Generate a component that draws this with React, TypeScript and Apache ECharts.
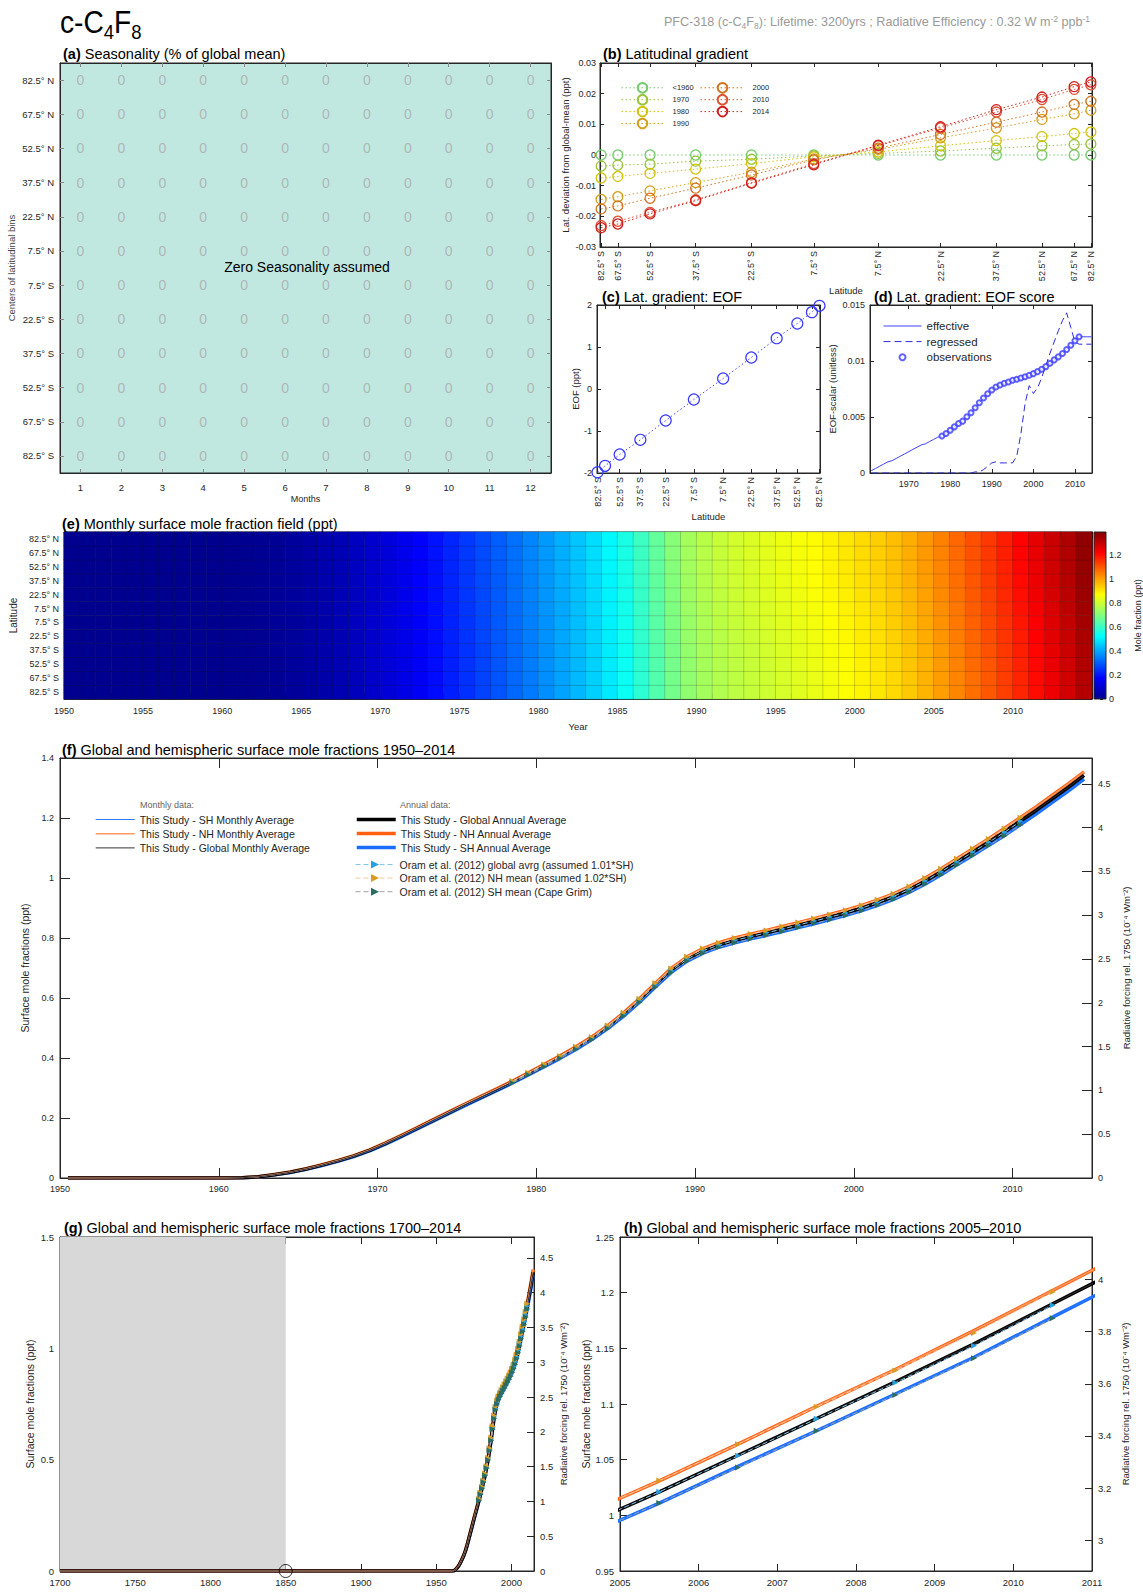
import React, { useEffect, useRef } from "react";
import * as echarts from "echarts";

const FONT = "'Liberation Sans', Arial, Helvetica, sans-serif";
const INK = "#262626";

// ---------------- data ----------------
const latLabels = ["82.5° S", "67.5° S", "52.5° S", "37.5° S", "22.5° S", "7.5° S", "7.5° N", "22.5° N", "37.5° N", "52.5° N", "67.5° N", "82.5° N"];
const latDegrees = [-82.5, -67.5, -52.5, -37.5, -22.5, -7.5, 7.5, 22.5, 37.5, 52.5, 67.5, 82.5];
const monthLabels = ["1", "2", "3", "4", "5", "6", "7", "8", "9", "10", "11", "12"];

// (a) seasonality, rows south -> north, columns Jan..Dec
const seasonality = [
  [0, 0, 0, 0, 0, 0, 0, 0, 0, 0, 0, 0],
  [0, 0, 0, 0, 0, 0, 0, 0, 0, 0, 0, 0],
  [0, 0, 0, 0, 0, 0, 0, 0, 0, 0, 0, 0],
  [0, 0, 0, 0, 0, 0, 0, 0, 0, 0, 0, 0],
  [0, 0, 0, 0, 0, 0, 0, 0, 0, 0, 0, 0],
  [0, 0, 0, 0, 0, 0, 0, 0, 0, 0, 0, 0],
  [0, 0, 0, 0, 0, 0, 0, 0, 0, 0, 0, 0],
  [0, 0, 0, 0, 0, 0, 0, 0, 0, 0, 0, 0],
  [0, 0, 0, 0, 0, 0, 0, 0, 0, 0, 0, 0],
  [0, 0, 0, 0, 0, 0, 0, 0, 0, 0, 0, 0],
  [0, 0, 0, 0, 0, 0, 0, 0, 0, 0, 0, 0],
  [0, 0, 0, 0, 0, 0, 0, 0, 0, 0, 0, 0],
];

// (b) latitudinal gradient (ppt), south -> north
const gradientNames = ["<1960", "1970", "1980", "1990", "2000", "2010", "2014"];
const gradLt1960 = [0, 0, 0, 0, 0, 0, 0, 0, 0, 0, 0, 0];
const grad1970 = [-0.0036, -0.0033, -0.003, -0.002, -0.0014, -0.0003, 0.0005, 0.0013, 0.0022, 0.003, 0.0034, 0.0036];
const grad1980 = [-0.0075, -0.007, -0.006, -0.0046, -0.0028, -0.0006, 0.001, 0.003, 0.0047, 0.006, 0.007, 0.0075];
const grad1990 = [-0.0145, -0.0136, -0.0117, -0.009, -0.0056, -0.0013, 0.0018, 0.0056, 0.0088, 0.0116, 0.0134, 0.0146];
const grad2000 = [-0.0176, -0.0166, -0.0141, -0.0108, -0.0065, -0.0016, 0.0022, 0.0067, 0.0107, 0.014, 0.0165, 0.0175];
const grad2010 = [-0.023, -0.0216, -0.0187, -0.0146, -0.009, -0.0028, 0.003, 0.0088, 0.014, 0.0181, 0.0214, 0.0229];
const grad2014 = [-0.0237, -0.0225, -0.0192, -0.0149, -0.0092, -0.0032, 0.0032, 0.0092, 0.0148, 0.0189, 0.0223, 0.0238];
const gradientColors = ["#74cc6c", "#98c43c", "#d2c40a", "#d4a01e", "#d27424", "#dc5232", "#d21e1e"];

// (c) EOF (ppt)
const eofValues = [-1.98, -1.83, -1.56, -1.21, -0.75, -0.25, 0.25, 0.75, 1.21, 1.56, 1.83, 1.98];

// (d) EOF score
const decadeTicks = [1970, 1980, 1990, 2000, 2010];
const obsYears = [1978, 1979, 1980, 1981, 1982, 1983, 1984, 1985, 1986, 1987, 1988, 1989, 1990, 1991, 1992, 1993, 1994, 1995, 1996, 1997, 1998, 1999, 2000, 2001, 2002, 2003, 2004, 2005, 2006, 2007, 2008, 2009, 2010, 2011];
const obsScore = [0.0033, 0.00353, 0.00382, 0.00412, 0.00442, 0.00463, 0.00502, 0.00538, 0.00583, 0.00627, 0.00669, 0.00708, 0.00741, 0.00768, 0.00786, 0.00801, 0.00813, 0.00828, 0.00837, 0.00849, 0.0086, 0.00872, 0.00887, 0.00905, 0.00926, 0.0095, 0.0098, 0.0101, 0.01037, 0.01067, 0.01102, 0.01141, 0.0118, 0.01216];
const regressedYears = [1961, 1985, 1986, 1987, 1988, 1989, 1990, 1991, 1992, 1993, 1994, 1995, 1996, 1997, 1998, 1999, 2000, 2001, 2002, 2003, 2004, 2005, 2006, 2007, 2008, 2009, 2010, 2011, 2014];
const regressedScore = [0, 0, 0.0001, 0.0001, 0.0003, 0.0006, 0.0009, 0.001, 0.0009, 0.0009, 0.0009, 0.0009, 0.0015, 0.0035, 0.0062, 0.0078, 0.0071, 0.0076, 0.0085, 0.0096, 0.0107, 0.0117, 0.0127, 0.0136, 0.0143, 0.013, 0.0117, 0.0115, 0.0115];

// annual series 1950..2014 (values at mid-year)
const annualYears = Array.from({ length: 65 }, (_, i) => 1950 + i);
const scoreAnnual = [
  0, 0, 0, 0, 0, 0, 0, 0, 0, 0, 0,
  0.0002, 0.0004, 0.0006, 0.0008, 0.001, 0.0011, 0.0013, 0.0015, 0.0017, 0.0019, 0.0021, 0.0023, 0.0025, 0.0026, 0.0028, 0.003, 0.0032,
  0.0033, 0.00353, 0.00382, 0.00412, 0.00442, 0.00463, 0.00502, 0.00538, 0.00583, 0.00627, 0.00669, 0.00708, 0.00741, 0.00768, 0.00786, 0.00801, 0.00813, 0.00828, 0.00837, 0.00849, 0.0086, 0.00872, 0.00887, 0.00905, 0.00926, 0.0095, 0.0098, 0.0101, 0.01037, 0.01067, 0.01102, 0.01141, 0.0118, 0.01216,
  0.01216, 0.01216, 0.01216,
];
const globalAnnual = [
  0, 0, 0, 0, 0, 0, 0, 0, 0, 0, 0,
  0.001, 0.004, 0.011, 0.019, 0.03, 0.043, 0.057, 0.073, 0.092, 0.115,
  0.14, 0.166, 0.192, 0.218, 0.244, 0.269, 0.294, 0.32, 0.347, 0.375,
  0.403, 0.433, 0.466, 0.503, 0.545, 0.592, 0.643, 0.692, 0.73, 0.757,
  0.777, 0.792, 0.805, 0.817, 0.83, 0.843, 0.856, 0.87, 0.884, 0.9,
  0.918, 0.938, 0.962, 0.99, 1.021, 1.054, 1.087, 1.12, 1.154, 1.19,
  1.226, 1.264, 1.302, 1.342,
];
const nhAnnual = [
  0, 0, 0, 0, 0, 0, 0, 0, 0, 0, 0,
  0.0012, 0.0044, 0.0116, 0.0198, 0.031, 0.0441, 0.0583, 0.0745, 0.0937, 0.1169,
  0.1421, 0.1683, 0.1945, 0.2206, 0.2468, 0.272, 0.2972, 0.3233, 0.3505, 0.3788,
  0.4071, 0.4374, 0.4706, 0.508, 0.5504, 0.5978, 0.6493, 0.6987, 0.7371, 0.7644,
  0.7847, 0.7999, 0.813, 0.8251, 0.8383, 0.8514, 0.8645, 0.8786, 0.8927, 0.9089,
  0.9271, 0.9473, 0.9715, 0.9998, 1.031, 1.064, 1.098, 1.131, 1.166, 1.202,
  1.238, 1.276, 1.314, 1.354,
];
const shAnnual = [
  0, 0, 0, 0, 0, 0, 0, 0, 0, 0, 0,
  0.0008, 0.0036, 0.0104, 0.0182, 0.029, 0.0419, 0.0557, 0.0715, 0.0903, 0.1131,
  0.1379, 0.1637, 0.1895, 0.2154, 0.2412, 0.266, 0.2908, 0.3167, 0.3435, 0.3712,
  0.3989, 0.4286, 0.4614, 0.498, 0.5396, 0.5862, 0.6367, 0.6853, 0.7229, 0.7496,
  0.7693, 0.7841, 0.797, 0.8089, 0.8217, 0.8346, 0.8475, 0.8614, 0.8753, 0.8911,
  0.9089, 0.9287, 0.9525, 0.9802, 1.011, 1.044, 1.076, 1.109, 1.142, 1.178,
  1.214, 1.252, 1.29, 1.33,
];
// Oram et al. (2012) Cape Grim SH, 1978..2010
const oramYears = Array.from({ length: 33 }, (_, i) => 1978 + i);
const oramSH = [
  0.317, 0.344, 0.371, 0.399, 0.429, 0.461, 0.498, 0.54, 0.586, 0.637,
  0.685, 0.723, 0.75, 0.769, 0.784, 0.797, 0.809, 0.822, 0.835, 0.848,
  0.861, 0.875, 0.891, 0.909, 0.929, 0.953, 0.98, 1.011, 1.043, 1.076,
  1.108, 1.141, 1.177,
];
const baselineYears = [1700];
const baselineValues = [0];
const circleYears = [1850];
const circleValues = [0];
const shadeRange = [1700, 1850];

const monthlyNames = ["This Study - SH Monthly Average", "This Study - NH Monthly Average", "This Study - Global Monthly Average"];
const annualNames = ["This Study - Global Annual Average", "This Study - NH Annual Average", "This Study - SH Annual Average"];
const oramNames = ["Oram et al. (2012) global avrg (assumed 1.01*SH)", "Oram et al. (2012) NH mean (assumed 1.02*SH)", "Oram et al. (2012) SH mean (Cape Grim)"];
const dNames = ["effective", "regressed", "observations"];

const jetColors = ["#00008f", "#0000ff", "#0080ff", "#00ffff", "#80ff80", "#ffff00", "#ff8000", "#ff0000", "#800000"];

// ---------------- option ----------------
function mk(o: any) {
  return {
    ...o,
    axisLine: { show: true, onZero: false, lineStyle: { color: INK, width: 1 }, ...(o.axisLine || {}) },
    axisTick: { show: true, inside: true, length: 4, lineStyle: { color: INK }, ...(o.axisTick || {}) },
    axisLabel: { color: INK, fontSize: 9, fontFamily: FONT, hideOverlap: false, ...(o.axisLabel || {}) },
    splitLine: { show: false },
    nameTextStyle: { color: INK, fontSize: 10, fontFamily: FONT, ...(o.nameTextStyle || {}) },
  };
}

function panelTitle(x: number, y: number, letter: string, text: string) {
  return {
    type: "text",
    x,
    y,
    z: 20,
    style: {
      text: `{b|(${letter})} ${text}`,
      fontSize: 14.5,
      fontFamily: FONT,
      fill: "#000",
      align: "left",
      verticalAlign: "middle",
      rich: { b: { fontWeight: "bold", fontSize: 14.5, fontFamily: FONT, fill: "#000" } },
    },
  };
}

const yearFmt = (v: number) => String(v);
const NOSYM = { color: "rgba(0,0,0,0)", borderColor: "rgba(0,0,0,0)", borderWidth: 0, opacity: 0 };

function buildOption() {
  const latPos = latDegrees.map((d) => Math.sin((d * Math.PI) / 180));
  const latFmt = (v: number) => {
    const i = latPos.findIndex((p) => Math.abs(p - v) < 1e-6);
    return i >= 0 ? latLabels[i] : "";
  };
  const xAxis: any[] = [];
  const yAxis: any[] = [];
  const series: any[] = [];
  const xi = (o: any) => xAxis.push(mk(o)) - 1;
  const yi = (o: any) => yAxis.push(mk(o)) - 1;
  const toPts = (xs: number[], ys: number[]) => xs.map((x, i) => [x, ys[i]]);

  const grid = [
    { left: 60, top: 63, width: 491, height: 410, show: true, backgroundColor: "#c0e8e1", borderColor: INK, borderWidth: 1 },
    { left: 600, top: 63, width: 492, height: 184, show: true, borderColor: INK, borderWidth: 1 },
    { left: 597, top: 305, width: 223, height: 168, show: true, borderColor: INK, borderWidth: 1 },
    { left: 870, top: 305, width: 222, height: 168, show: true, borderColor: INK, borderWidth: 1 },
    { left: 59, top: 532, width: 1033, height: 167, show: true, borderColor: INK, borderWidth: 1 },
    { left: 1094, top: 532, width: 12, height: 167 },
    { left: 60, top: 758, width: 1032, height: 420, show: true, borderColor: INK, borderWidth: 1 },
    { left: 60, top: 1237, width: 474, height: 334, show: true, borderColor: INK, borderWidth: 1 },
    { left: 620, top: 1237, width: 472, height: 334, show: true, borderColor: INK, borderWidth: 1 },
  ];

  // ---- (a)
  const ax = xi({ gridIndex: 0, type: "category", data: monthLabels, position: "bottom", axisTick: { alignWithLabel: true, lineStyle: { color: "#888" } }, axisLabel: { fontSize: 9.5, margin: 9 }, name: "Months", nameLocation: "middle", nameGap: 21, nameTextStyle: { fontSize: 9 } });
  xi({ gridIndex: 0, type: "category", data: monthLabels, position: "top", axisTick: { alignWithLabel: true, lineStyle: { color: "#888" } }, axisLabel: { show: false } });
  const ay = yi({ gridIndex: 0, type: "category", data: latLabels, position: "left", axisTick: { alignWithLabel: true, lineStyle: { color: "#888" } }, axisLabel: { fontSize: 9.5, margin: 6 }, name: "Centers of latitudinal bins", nameLocation: "middle", nameGap: 44, nameTextStyle: { fontSize: 9.5, color: "#444" } });
  yi({ gridIndex: 0, type: "category", data: latLabels, position: "right", axisTick: { alignWithLabel: true, lineStyle: { color: "#888" } }, axisLabel: { show: false } });
  const cells: any[] = [];
  seasonality.forEach((row, j) => row.forEach((v, i) => cells.push([i, j, v])));
  series.push({
    type: "scatter", xAxisIndex: ax, yAxisIndex: ay, data: cells, symbolSize: 1, silent: true,
    itemStyle: { color: "rgba(0,0,0,0)" },
    label: { show: true, position: "inside", formatter: (p: any) => String(p.value[2]), color: "#aaaaaa", fontSize: 14, fontFamily: FONT },
  });

  // ---- (b)
  const latAxisLabel = { customValues: latPos, rotate: 90, formatter: latFmt, margin: 4, fontSize: 9, showMinLabel: true, showMaxLabel: true };
  const bx = xi({ gridIndex: 1, type: "value", min: -0.996, max: 0.996, position: "bottom", axisTick: { customValues: latPos }, axisLabel: latAxisLabel, name: "Latitude", nameLocation: "middle", nameGap: 31, nameTextStyle: { fontSize: 9.5 } });
  xi({ gridIndex: 1, type: "value", min: -0.996, max: 0.996, position: "top", axisTick: { customValues: latPos }, axisLabel: { show: false } });
  const by = yi({ gridIndex: 1, type: "value", min: -0.03, max: 0.03, interval: 0.01, axisLabel: { fontSize: 9, margin: 4 }, name: "Lat. deviation from global-mean (ppt)", nameLocation: "middle", nameGap: 30, nameTextStyle: { fontSize: 9.5 } });
  yi({ gridIndex: 1, type: "value", min: -0.03, max: 0.03, interval: 0.01, position: "right", axisLabel: { show: false } });
  const gradSets = [gradLt1960, grad1970, grad1980, grad1990, grad2000, grad2010, grad2014];
  gradSets.forEach((vals, k) => {
    series.push({
      type: "line", name: gradientNames[k], xAxisIndex: bx, yAxisIndex: by, data: toPts(latPos, vals),
      symbol: "circle", symbolSize: 10, showSymbol: true, silent: true,
      lineStyle: { color: gradientColors[k], width: 1, type: [1.5, 2.5] },
      itemStyle: { color: "rgba(255,255,255,0)", borderColor: gradientColors[k], borderWidth: 1.3 },
      emphasis: { disabled: true }, z: 3 + k,
    });
  });

  // ---- (c)
  const cx = xi({ gridIndex: 2, type: "value", min: -0.996, max: 0.996, position: "bottom", axisTick: { customValues: latPos }, axisLabel: latAxisLabel, name: "Latitude", nameLocation: "middle", nameGap: 36, nameTextStyle: { fontSize: 9.5 } });
  xi({ gridIndex: 2, type: "value", min: -0.996, max: 0.996, position: "top", axisTick: { customValues: latPos }, axisLabel: { show: false } });
  const cy = yi({ gridIndex: 2, type: "value", min: -2, max: 2, interval: 1, axisLabel: { fontSize: 9, margin: 5 }, name: "EOF (ppt)", nameLocation: "middle", nameGap: 17, nameTextStyle: { fontSize: 9.5 } });
  yi({ gridIndex: 2, type: "value", min: -2, max: 2, interval: 1, position: "right", axisLabel: { show: false } });
  series.push({
    type: "line", xAxisIndex: cx, yAxisIndex: cy, data: toPts(latPos, eofValues), symbol: "circle", symbolSize: 11, silent: true,
    lineStyle: { color: "#4848ff", width: 1, type: [1.5, 2.5] },
    itemStyle: { color: "rgba(255,255,255,0)", borderColor: "#3a3aff", borderWidth: 1.2 },
    emphasis: { disabled: true },
  });

  // ---- (d)
  const dx = xi({ gridIndex: 3, type: "value", min: 1960.7, max: 2014.1, position: "bottom", axisTick: { customValues: decadeTicks }, axisLabel: { customValues: decadeTicks, formatter: yearFmt, fontSize: 9, margin: 6 } });
  xi({ gridIndex: 3, type: "value", min: 1960.7, max: 2014.1, position: "top", axisTick: { customValues: decadeTicks }, axisLabel: { show: false } });
  const dy = yi({ gridIndex: 3, type: "value", min: 0, max: 0.015, interval: 0.005, axisLabel: { fontSize: 9, margin: 5 }, name: "EOF-scalar (unitless)", nameLocation: "middle", nameGap: 33, nameTextStyle: { fontSize: 9.5 } });
  yi({ gridIndex: 3, type: "value", min: 0, max: 0.015, interval: 0.005, position: "right", axisLabel: { show: false } });
  const effStart = annualYears.indexOf(1961);
  series.push({
    type: "line", name: dNames[0], xAxisIndex: dx, yAxisIndex: dy,
    data: toPts(annualYears.slice(effStart), scoreAnnual.slice(effStart)),
    symbol: "none", showSymbol: false, lineStyle: { color: "#4040ff", width: 1 }, itemStyle: { color: "#4040ff" }, silent: true, z: 3,
  });
  series.push({
    type: "line", name: dNames[1], xAxisIndex: dx, yAxisIndex: dy, data: toPts(regressedYears, regressedScore),
    symbol: "none", showSymbol: false, lineStyle: { color: "#2c2cd8", width: 1, type: [7, 4] }, itemStyle: { color: "#2c2cd8" }, silent: true, z: 3,
  });
  series.push({
    type: "scatter", name: dNames[2], xAxisIndex: dx, yAxisIndex: dy, data: toPts(obsYears, obsScore),
    symbol: "emptyCircle", symbolSize: 5, itemStyle: { color: "#3a3aff", borderWidth: 1 }, silent: true, z: 4,
  });

  // ---- (e)
  const ex = xi({ gridIndex: 4, type: "category", data: annualYears.map(String), show: false });
  xi({ gridIndex: 4, type: "value", min: 1950, max: 2015, interval: 1, position: "bottom", axisTick: { length: 6, lineStyle: { color: "#111" } }, axisLabel: { formatter: (v: number) => (v % 5 === 0 && v < 2015 ? String(v) : ""), fontSize: 9, margin: 7 }, name: "Year", nameLocation: "middle", nameGap: 22, nameTextStyle: { fontSize: 9.5 } });
  xi({ gridIndex: 4, type: "value", min: 1950, max: 2015, interval: 1, position: "top", axisTick: { length: 6, lineStyle: { color: "#111" } }, axisLabel: { show: false } });
  const ey = yi({ gridIndex: 4, type: "category", data: latLabels, position: "left", axisTick: { alignWithLabel: true, length: 6, lineStyle: { color: "#111" } }, axisLabel: { fontSize: 9, margin: 5 }, name: "Latitude", nameLocation: "middle", nameGap: 44, nameTextStyle: { fontSize: 10 } });
  yi({ gridIndex: 4, type: "category", data: latLabels, position: "right", axisTick: { alignWithLabel: true, length: 6, lineStyle: { color: "#111" } }, axisLabel: { show: false } });
  const heat: any[] = [];
  annualYears.forEach((_, i) => {
    eofValues.forEach((e, j) => heat.push([i, j, globalAnnual[i] + e * scoreAnnual[i]]));
  });
  const heatIdx = series.push({
    type: "heatmap", xAxisIndex: ex, yAxisIndex: ey, data: heat, progressive: 0, silent: true,
    itemStyle: { borderColor: "rgba(25,25,25,0.28)", borderWidth: 0.6 }, emphasis: { disabled: true },
  }) - 1;

  // colorbar axes
  const cbx = xi({ gridIndex: 5, type: "value", min: 0, max: 1, show: false });
  const cby = yi({ gridIndex: 5, type: "value", min: 0, max: 1.39, interval: 0.2, position: "right", axisLine: { show: false }, axisTick: { length: 3 }, axisLabel: { showMaxLabel: false, fontSize: 9, margin: 6 }, name: "Mole fraction (ppt)", nameLocation: "middle", nameGap: 30, nameTextStyle: { fontSize: 9 } });
  series.push({ type: "line", xAxisIndex: cbx, yAxisIndex: cby, data: [], silent: true });

  // ---- concentration panels
  const midYears = annualYears.map((y) => y + 0.5);
  const oramX = oramYears.map((y) => y + 0.5);
  function addConc(xa: number, ya: number, withBaseline: boolean) {
    const pre = withBaseline ? toPts(baselineYears, baselineValues) : [];
    const line = (name: string, vals: number[], color: string, width: number, z: number) =>
      series.push({
        type: "line", name, xAxisIndex: xa, yAxisIndex: ya, data: pre.concat(toPts(midYears, vals)),
        symbol: "none", showSymbol: false, smooth: false, silent: true,
        lineStyle: { color, width, join: "round" }, itemStyle: { color }, emphasis: { disabled: true }, z,
      });
    line(annualNames[2], shAnnual, "#1a6dff", 3.5, 2);
    line(annualNames[1], nhAnnual, "#ff6010", 3.5, 2);
    line(annualNames[0], globalAnnual, "#000000", 3.5, 3);
    line(monthlyNames[0], shAnnual, "#2a7dff", 1, 4);
    line(monthlyNames[1], nhAnnual, "#ff9a62", 1.4, 4);
    line(monthlyNames[2], globalAnnual, "#333333", 1, 4);
    const oram = (name: string, vals: number[], lineColor: string, markColor: string) =>
      series.push({
        type: "line", name, xAxisIndex: xa, yAxisIndex: ya, data: toPts(oramX, vals),
        symbol: "triangle", symbolRotate: -90, symbolSize: 6, showSymbol: true, silent: true,
        lineStyle: { color: lineColor, width: 1, type: [5, 3] }, itemStyle: { color: markColor },
        emphasis: { disabled: true }, z: 5,
      });
    oram(oramNames[0], oramSH.map((v) => v * 1.01), "#7fc6f0", "#2a9fe0");
    oram(oramNames[1], oramSH.map((v) => v * 1.02), "#f7c69c", "#d89c22");
    oram(oramNames[2], oramSH, "#a0a0a0", "#2a6e60");
  }

  // (f)
  const fx = xi({ gridIndex: 6, type: "value", min: 1950, max: 2015, interval: 10, position: "bottom", axisTick: { length: 10 }, axisLabel: { formatter: yearFmt, showMaxLabel: false, fontSize: 9, margin: 6 } });
  xi({ gridIndex: 6, type: "value", min: 1950, max: 2015, interval: 10, position: "top", axisTick: { length: 10 }, axisLabel: { show: false } });
  const fy = yi({ gridIndex: 6, type: "value", min: 0, max: 1.4, interval: 0.2, axisTick: { length: 10 }, axisLabel: { fontSize: 9, margin: 6 }, name: "Surface mole fractions (ppt)", nameLocation: "middle", nameGap: 24, nameTextStyle: { fontSize: 10.5 } });
  yi({ gridIndex: 6, type: "value", min: 0, max: 4.794, interval: 0.5, position: "right", axisTick: { length: 10 }, axisLabel: { showMaxLabel: false, fontSize: 9, margin: 6 }, name: "Radiative forcing rel. 1750 (10⁻⁴ Wm⁻²)", nameLocation: "middle", nameGap: 27, nameTextStyle: { fontSize: 9.5 } });
  addConc(fx, fy, false);

  // (g)
  const gx = xi({ gridIndex: 7, type: "value", min: 1700, max: 2015, interval: 50, position: "bottom", axisTick: { length: 7 }, axisLabel: { formatter: yearFmt, showMaxLabel: false, fontSize: 9.5, margin: 6 } });
  xi({ gridIndex: 7, type: "value", min: 1700, max: 2015, interval: 50, position: "top", axisTick: { length: 7 }, axisLabel: { show: false } });
  const gy = yi({ gridIndex: 7, type: "value", min: 0, max: 1.5, interval: 0.5, axisTick: { length: 7 }, axisLabel: { fontSize: 9.5, margin: 6 }, name: "Surface mole fractions (ppt)", nameLocation: "middle", nameGap: 25, nameTextStyle: { fontSize: 10.5 } });
  yi({ gridIndex: 7, type: "value", min: 0, max: 4.8, interval: 0.5, position: "right", axisTick: { length: 7 }, axisLabel: { showMaxLabel: false, fontSize: 9.5, margin: 6 }, name: "Radiative forcing rel. 1750 (10⁻⁴ Wm⁻²)", nameLocation: "middle", nameGap: 24, nameTextStyle: { fontSize: 9.5 } });
  series.push({
    type: "line", xAxisIndex: gx, yAxisIndex: gy, data: toPts(baselineYears, baselineValues), symbol: "none",
    lineStyle: { opacity: 0 }, silent: true, z: 1,
    markArea: { silent: true, itemStyle: { color: "#d8d8d8" }, data: [[{ xAxis: shadeRange[0] }, { xAxis: shadeRange[1] }]] },
  });
  addConc(gx, gy, true);
  series.push({
    type: "scatter", xAxisIndex: gx, yAxisIndex: gy, data: toPts(circleYears, circleValues), symbol: "circle", symbolSize: 13,
    itemStyle: { color: "rgba(0,0,0,0)", borderColor: "#000", borderWidth: 1 }, silent: true, z: 10,
  });

  // (h)
  const hx = xi({ gridIndex: 8, type: "value", min: 2005, max: 2011, interval: 1, position: "bottom", axisTick: { length: 7 }, axisLabel: { formatter: yearFmt, fontSize: 9.5, margin: 6 } });
  xi({ gridIndex: 8, type: "value", min: 2005, max: 2011, interval: 1, position: "top", axisTick: { length: 7 }, axisLabel: { show: false } });
  const hy = yi({ gridIndex: 8, type: "value", min: 0.95, max: 1.25, interval: 0.05, axisTick: { length: 7 }, axisLabel: { fontSize: 9.5, margin: 6 }, name: "Surface mole fractions (ppt)", nameLocation: "middle", nameGap: 29, nameTextStyle: { fontSize: 10.5 } });
  yi({ gridIndex: 8, type: "value", min: 2.883, max: 4.162, splitNumber: 6, position: "right", axisTick: { length: 7 }, axisLabel: { showMinLabel: false, showMaxLabel: false, fontSize: 9.5, margin: 6 }, name: "Radiative forcing rel. 1750 (10⁻⁴ Wm⁻²)", nameLocation: "middle", nameGap: 28, nameTextStyle: { fontSize: 9.5 } });
  addConc(hx, hy, false);

  const legBase = { selectedMode: false, orient: "vertical", padding: 0, lineStyle: { width: "inherit" }, textStyle: { color: INK, fontFamily: FONT } };
  const plain = (names: string[]) => names.map((name) => ({ name, itemStyle: NOSYM }));

  const stops = jetColors.map((c, i) => ({ offset: i / (jetColors.length - 1), color: c }));

  return {
    animation: false,
    backgroundColor: "#fff",
    textStyle: { fontFamily: FONT },
    grid,
    xAxis,
    yAxis,
    series,
    visualMap: {
      show: false, type: "continuous", min: 0, max: 1.39, seriesIndex: heatIdx, dimension: 2,
      inRange: { color: jetColors },
    },
    legend: [
      { ...legBase, data: gradientNames.slice(0, 4), left: 621, top: 82, itemWidth: 42, itemHeight: 12, itemGap: 0.3, textStyle: { ...legBase.textStyle, fontSize: 7.5, padding: [0, 0, 0, 4] } },
      { ...legBase, data: gradientNames.slice(4), left: 700, top: 82, itemWidth: 44, itemHeight: 12, itemGap: 0.3, textStyle: { ...legBase.textStyle, fontSize: 7.5, padding: [0, 0, 0, 3] } },
      { ...legBase, data: [...plain(dNames.slice(0, 2)), { name: dNames[2] }], left: 883, top: 320, itemWidth: 38, itemHeight: 6, itemGap: 3.6, textStyle: { ...legBase.textStyle, fontSize: 11.5 } },
      { ...legBase, data: plain(monthlyNames), left: 95, top: 814, itemWidth: 39, itemHeight: 10, itemGap: 3.2, textStyle: { ...legBase.textStyle, fontSize: 10.5 } },
      { ...legBase, data: plain(annualNames), left: 355, top: 814, itemWidth: 39, itemHeight: 10, itemGap: 3.0, textStyle: { ...legBase.textStyle, fontSize: 10.5 } },
      { ...legBase, data: oramNames, left: 355, top: 859, itemWidth: 39, itemHeight: 10, itemGap: 2.6, textStyle: { ...legBase.textStyle, fontSize: 10.5 } },
    ],
    graphic: [
      {
        type: "text", x: 60, y: 2, scaleX: 0.88, z: 20,
        style: {
          text: "{t|c-C}{s|4}{t|F}{s|8}", align: "left", verticalAlign: "top",
          rich: {
            t: { fontSize: 32, lineHeight: 40, fontFamily: FONT, fill: "#000" },
            s: { fontSize: 21, lineHeight: 21, fontFamily: FONT, fill: "#000", verticalAlign: "bottom" },
          },
        },
      },
      {
        type: "text", x: 1090, y: 22, z: 20,
        style: {
          text: "{n|PFC-318 (c-C}{s|4}{n|F}{s|8}{n|): Lifetime: 3200yrs ; Radiative Efficiency : 0.32 W m}{p|-2}{n| ppb}{p|-1}",
          align: "right", verticalAlign: "middle",
          rich: {
            n: { fontSize: 12.6, lineHeight: 16, fontFamily: FONT, fill: "#9a9a9a" },
            s: { fontSize: 8.5, lineHeight: 8, fontFamily: FONT, fill: "#9a9a9a", verticalAlign: "bottom" },
            p: { fontSize: 8.5, lineHeight: 8, fontFamily: FONT, fill: "#9a9a9a", verticalAlign: "top" },
          },
        },
      },
      panelTitle(63, 54, "a", "Seasonality (% of global mean)"),
      panelTitle(603, 54, "b", "Latitudinal gradient"),
      panelTitle(602, 297, "c", "Lat. gradient: EOF"),
      panelTitle(874, 297, "d", "Lat. gradient: EOF score"),
      panelTitle(62, 524, "e", "Monthly surface mole fraction field (ppt)"),
      panelTitle(62, 750, "f", "Global and hemispheric surface mole fractions 1950–2014"),
      panelTitle(64, 1228, "g", "Global and hemispheric surface mole fractions 1700–2014"),
      panelTitle(624, 1228, "h", "Global and hemispheric surface mole fractions 2005–2010"),
      {
        type: "text", x: 307, y: 267, z: 20,
        style: { text: "Zero Seasonality assumed", fontSize: 14, fontFamily: FONT, fill: "#000", align: "center", verticalAlign: "middle" },
      },
      {
        type: "text", x: 140, y: 805, z: 20,
        style: { text: "Monthly data:", fontSize: 9, fontFamily: FONT, fill: "#666", align: "left", verticalAlign: "middle" },
      },
      {
        type: "text", x: 400, y: 805, z: 20,
        style: { text: "Annual data:", fontSize: 9, fontFamily: FONT, fill: "#666", align: "left", verticalAlign: "middle" },
      },
      {
        type: "rect", z: 5,
        shape: { x: 1094, y: 532, width: 12, height: 167 },
        style: { fill: new echarts.graphic.LinearGradient(0, 1, 0, 0, stops), stroke: INK, lineWidth: 1 },
      },
    ],
  };
}

export default function App() {
  const ref = useRef<HTMLDivElement>(null);
  useEffect(() => {
    if (!ref.current) return;
    const chart = echarts.init(ref.current, undefined, { renderer: "svg" });
    chart.setOption(buildOption() as any);
    return () => chart.dispose();
  }, []);
  return <div ref={ref} style={{ position: "absolute", left: 0, top: 0, width: 1143, height: 1592, background: "#fff" }} />;
}
